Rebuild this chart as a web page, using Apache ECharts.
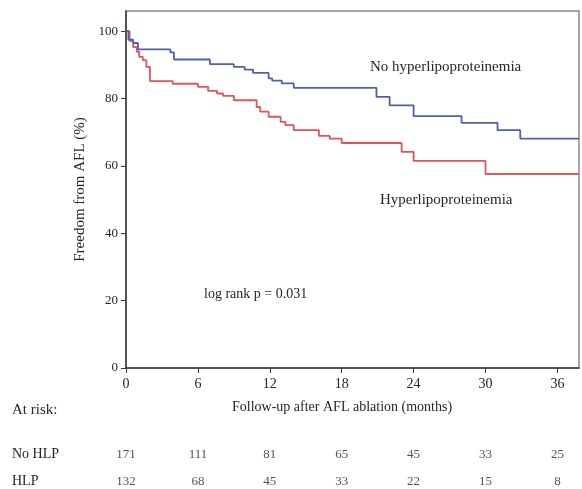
<!DOCTYPE html>
<html>
<head>
<meta charset="utf-8">
<script src="https://cdn.jsdelivr.net/npm/echarts@6/dist/echarts.min.js"></script>
<style>html,body{margin:0;padding:0;background:#fff}#c{width:582px;height:489px}</style>
</head>
<body>
<div id="c"></div>
<script>
// Kaplan-Meier step data (months, % freedom from AFL)
var noHlpTimes = [0, 0.2, 0.6, 1.0, 3.7, 4.0, 7.0, 9.0, 9.9, 10.6, 11.9, 12.2, 13.0, 14.0, 20.9, 22.0, 24.0, 28.0, 31.0, 32.9, 37.8];
var noHlpSurv  = [100, 97.5, 96.5, 94.6, 93.7, 91.6, 90.2, 89.4, 88.6, 87.6, 86.0, 85.3, 84.5, 83.2, 80.5, 78.0, 74.8, 72.8, 70.6, 68.1, 68.1];
var hlpTimes = [0, 0.3, 0.6, 0.9, 1.1, 1.4, 1.7, 2.0, 3.9, 6.0, 6.85, 7.6, 8.1, 9.0, 10.9, 11.2, 11.9, 12.9, 13.3, 14.0, 16.1, 17.0, 18.0, 23.0, 24.0, 30.0, 37.8];
var hlpSurv  = [100, 97.1, 95.3, 93.9, 92.4, 91.4, 89.4, 85.2, 84.4, 83.5, 82.3, 81.5, 80.8, 79.5, 77.5, 76.1, 74.6, 73.1, 72.1, 70.6, 68.9, 68.1, 66.8, 64.2, 61.5, 57.6, 57.6];
var xTicks = [0, 6, 12, 18, 24, 30, 36];
var yTicks = [0, 20, 40, 60, 80, 100];
var atRiskTimes = [0, 6, 12, 18, 24, 30, 36];
var noHlpAtRisk = [171, 111, 81, 65, 45, 33, 25];
var hlpAtRisk   = [132, 68, 45, 33, 22, 15, 8];
var groupNames = ['No hyperlipoproteinemia', 'Hyperlipoproteinemia'];
var rowNames = ['No HLP', 'HLP'];

var FONT = 'Liberation Serif';
var TXT = '#262626';
function zip(a, b) { return a.map(function (v, i) { return [v, b[i]]; }); }

var riskData = [];
atRiskTimes.forEach(function (t, i) {
  riskData.push({ value: [t, 1], label: { formatter: String(noHlpAtRisk[i]) } });
  riskData.push({ value: [t, 0], label: { formatter: String(hlpAtRisk[i]) } });
});

var chart = echarts.init(document.getElementById('c'), null, { renderer: 'canvas' });
chart.setOption({
  animation: false,
  backgroundColor: '#fff',
  textStyle: { fontFamily: FONT, color: TXT },
  grid: [
    { left: 126, right: 3, top: 11, bottom: 121, show: true, borderColor: '#8a8a8a', borderWidth: 1.5, backgroundColor: 'transparent' },
    { left: 126, right: 3, top: 455, height: 27 }
  ],
  xAxis: [{
    type: 'value', min: 0, max: 37.8, gridIndex: 0,
    axisLine: { show: true, lineStyle: { color: '#3a3a3a', width: 1.5 } },
    axisTick: { show: true, length: 5, customValues: xTicks, lineStyle: { color: '#3a3a3a' } },
    axisLabel: { customValues: xTicks, margin: 9, fontSize: 14, color: TXT, fontFamily: FONT },
    splitLine: { show: false }
  }, {
    type: 'value', min: 0, max: 37.8, gridIndex: 1, show: false
  }],
  yAxis: [{
    type: 'value', min: 0, max: 106, gridIndex: 0,
    name: 'Freedom from AFL (%)', nameLocation: 'middle', nameGap: 33, nameRotate: 90,
    nameTextStyle: { fontSize: 15, color: TXT, fontFamily: FONT },
    axisLine: { show: true, lineStyle: { color: '#3a3a3a', width: 1.5 } },
    axisTick: { show: true, length: 5, customValues: yTicks, lineStyle: { color: '#3a3a3a' } },
    axisLabel: { customValues: yTicks, margin: 8, fontSize: 13, color: TXT, fontFamily: FONT },
    splitLine: { show: false }
  }, {
    type: 'value', min: 0, max: 1, gridIndex: 1, show: false
  }],
  series: [{
    name: groupNames[0], type: 'line', step: 'end', xAxisIndex: 0, yAxisIndex: 0,
    data: zip(noHlpTimes, noHlpSurv), showSymbol: false, symbol: 'none',
    lineStyle: { color: '#4f62a8', width: 1.8 }, z: 3
  }, {
    name: groupNames[1], type: 'line', step: 'end', xAxisIndex: 0, yAxisIndex: 0,
    data: zip(hlpTimes, hlpSurv), showSymbol: false, symbol: 'none',
    lineStyle: { color: '#e0545e', width: 1.8 }, z: 2
  }, {
    type: 'scatter', xAxisIndex: 1, yAxisIndex: 1, symbolSize: 0, data: riskData,
    label: { show: true, position: 'inside', fontSize: 13, color: TXT, fontFamily: FONT },
    silent: true
  }],
  graphic: [
    { type: 'text', left: 370, top: 60, style: { text: groupNames[0], font: '15px "Liberation Serif"', fill: TXT } },
    { type: 'text', left: 380, top: 193, style: { text: groupNames[1], font: '15px "Liberation Serif"', fill: TXT } },
    { type: 'text', left: 204, top: 287, style: { text: 'log rank p = 0.031', font: '14px "Liberation Serif"', fill: TXT } },
    { type: 'text', left: 232, top: 400, style: { text: 'Follow-up after AFL ablation (months)', font: '14px "Liberation Serif"', fill: TXT } },
    { type: 'text', left: 12, top: 403, style: { text: 'At risk:', font: '15px "Liberation Serif"', fill: TXT } },
    { type: 'text', left: 12, top: 447, style: { text: rowNames[0], font: '14px "Liberation Serif"', fill: TXT } },
    { type: 'text', left: 12, top: 474, style: { text: rowNames[1], font: '14px "Liberation Serif"', fill: TXT } }
  ]
});
</script>
</body>
</html>
